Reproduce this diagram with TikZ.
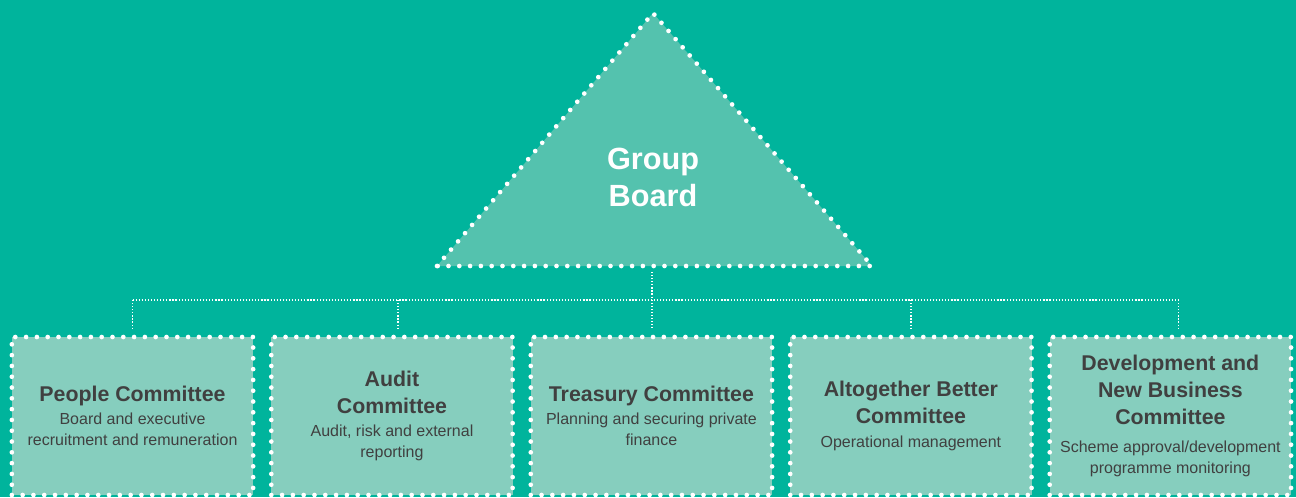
\documentclass[tikz,border=0pt]{standalone}
\usepackage{fontspec}
\setmainfont{Liberation Sans}
\usepackage{xcolor}
\usetikzlibrary{positioning, calc}

\newcommand{\ctitle}[1]{{\fontsize{16}{20}\selectfont\bfseries #1}}

\begin{document}
\begin{tikzpicture}[x=0.75pt, y=-0.75pt, node distance=10.1pt, every node/.style={font=\fontsize{12}{16}\selectfont}]
    % Define colors
    \definecolor{bgteal}{RGB}{0,180,156}
    \definecolor{boardgreen}{RGB}{84,194,174}
    \definecolor{boxgreen}{RGB}{134,206,190}
    \definecolor{textgrey}{RGB}{64,64,64}
    % Define styles
    \tikzset{
        dots/.style={draw=white, line width=3.5pt, line cap=round, dash pattern=on 0pt off 8.1pt},
        committee/.style={dots, fill=boxgreen, align=center, text=textgrey, minimum width=181pt, minimum height=118.5pt, inner sep=0pt},
        link/.style={draw=white, line width=0.9pt, dash pattern=on 0.9pt off 1.4pt},
    }

    % Background
    \fill[bgteal] (0,0) rectangle (1296,497);
    \useasboundingbox (0,0) rectangle (1296,497);

    % Group board triangle
    \coordinate (apex) at (653,13);
    \coordinate (baseleft) at (437,266);
    \coordinate (baseright) at (872,266);
    \path[dots, fill=boardgreen] (baseleft) -- (apex) -- (baseright) -- cycle;
    \node[text=white, align=center, font=\fontsize{23}{27.75}\selectfont\bfseries] (board) at (653,177) {Group\\Board};
    \coordinate (boardbase) at (652,272);

    % Committees
    \node[committee] (people) at (132.5,416) {\ctitle{People Committee}\\[1pt] Board and executive\\ recruitment and remuneration};
    \node[committee, right=of people] (audit) {\ctitle{Audit}\\[4pt] \ctitle{Committee}\\[1pt] Audit, risk and external\\ reporting};
    \node[committee, right=of audit] (treasury) {\ctitle{Treasury Committee}\\[1pt] Planning and securing private\\ finance};
    \node[committee, right=of treasury] (altogether) {\ctitle{Altogether Better}\\[4pt] \ctitle{Committee}\\[2pt] Operational management};
    \node[committee, right=of altogether] (dev) {\ctitle{Development and}\\[4pt] \ctitle{New Business}\\[4pt] \ctitle{Committee}\\[5pt] Scheme approval/development\\ programme monitoring};

    % Connectors
    \coordinate (bus) at (652,300);
    \coordinate (audittop) at ([xshift=4.5pt]audit.north);
    \coordinate (devtop) at ([xshift=6pt]dev.north);
    \draw[link, shorten >=3.75pt] (boardbase) -- (boardbase |- treasury.north);
    \draw[link] (people.north |- bus) -- (devtop |- bus);
    \foreach \n in {people.north, audittop, altogether.north, devtop}
        \draw[link, shorten >=3.75pt] (\n |- bus) -- (\n);
\end{tikzpicture}
\end{document}
